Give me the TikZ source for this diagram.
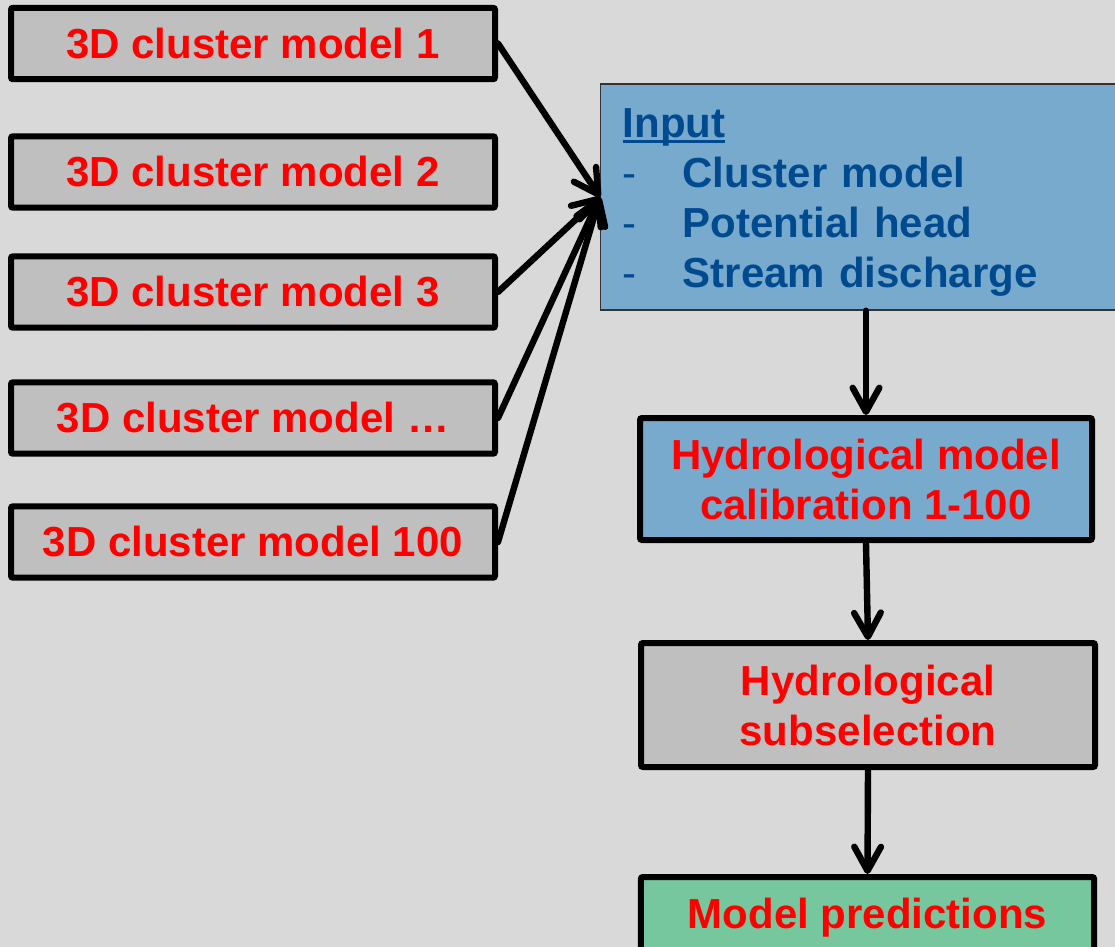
\documentclass[tikz,border=0pt]{standalone}
\usepackage{fontspec}
\setmainfont{Liberation Sans}
\usepackage{tikz}
\usetikzlibrary{arrows.meta}
\definecolor{bggray}{HTML}{D9D9D9}
\definecolor{boxgray}{HTML}{BFBFBF}
\definecolor{boxblue}{HTML}{78AACE}
\definecolor{textblue}{HTML}{004A8F}
\definecolor{boxgreen}{HTML}{76C69E}
\newcommand\ulword[1]{\setbox0\hbox{#1}\rlap{\rule[-4pt]{\wd0}{2.2pt}}#1}
\newcommand\initem[1]{\makebox[45pt][l]{\mdseries-}#1}

\begin{document}
\begin{tikzpicture}[x=0.75pt, y=-0.75pt,
	every node/.style={font=\fontsize{31.5}{37.5}\selectfont\bfseries},
	clusterbox/.style={draw, line width=4.5pt, rounded corners=1.5pt, fill=boxgray, text=red, minimum width=363pt, minimum height=53.6pt, inner sep=0pt},
	stagebox/.style={draw, line width=4.5pt, rounded corners=1.5pt, text=red, align=center, inner sep=0pt},
	flowarrow/.style={line width=4.8pt, line cap=round, -{Straight Barb[round, length=18pt, width=20pt]}}]
	\useasboundingbox (0,0) rectangle (1115,947);
	\fill[bggray] (0,0) rectangle (1115,947);
	\clip (0,0) rectangle (1115,947);
	\foreach \i/\y/\l in {1/43.5/1, 2/172/2, 3/292/3, 4/418/…, 5/542/100} {\node[clusterbox] (cm\i) at (253,\y) {3D cluster model \l};}
	\node[draw=black!80, line width=1pt, fill=boxblue, text=textblue, align=left, text width=357pt, inner xsep=16.5pt, minimum height=169.5pt, anchor=west] (input) at (600,197) {\rule{0pt}{30pt}\ulword{Input}\\ \initem{Cluster model}\\ \initem{Potential head}\\ \initem{Stream discharge}};
	\node[stagebox, fill=boxblue, minimum width=339pt, minimum height=91.5pt] (calib) at (866,479) {Hydrological model\\calibration 1-100};
	\node[stagebox, fill=boxgray, minimum width=340.5pt, minimum height=93pt] (subsel) at (868,705) {Hydrological\\subselection};
	\node[stagebox, fill=boxgreen, minimum width=340pt, minimum height=54.75pt, text depth=0pt] (pred) at (867.5,913.5) {Model predictions};
	\foreach \i in {1,3,4,5} {\draw[flowarrow] (cm\i.east) -- (input.west);}
	\draw[flowarrow] (calib.north |- input.south) -- (calib.north);
	\draw[flowarrow] (calib.south) -- (subsel.north);
	\draw[flowarrow] (subsel.south) -- (pred.north);
\end{tikzpicture}
\end{document}
